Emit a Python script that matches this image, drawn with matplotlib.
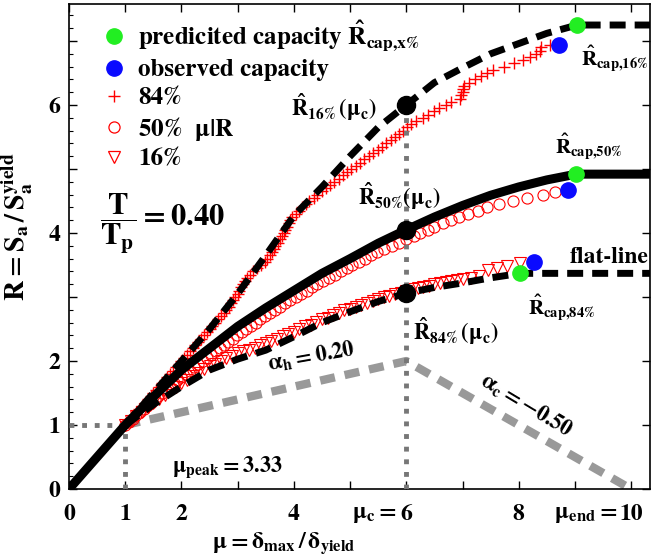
import matplotlib
matplotlib.use("Agg")
import matplotlib.pyplot as plt
from matplotlib.lines import Line2D

plt.rcParams['font.family'] = ['STIXGeneral', 'DejaVu Serif']
plt.rcParams['font.weight'] = 'bold'
plt.rcParams['mathtext.fontset'] = 'stix'
plt.rcParams['mathtext.default'] = 'bf'

# ---------------- data ----------------
# fitted 16% / 50% / 84% curves (mu, R)
fit16_mu = [1, 1.5, 2, 2.5, 3, 3.5, 4, 4.5, 5, 5.5, 6, 6.5, 7, 7.5, 8, 8.5, 9.04, 10.5]
fit16_R = [1, 1.5, 2.0, 2.5, 3.05, 3.65, 4.27, 4.72, 5.2, 5.65, 6.0, 6.35, 6.58, 6.8, 6.96, 7.12, 7.25, 7.25]

fit50_mu = [0, 1, 1.5, 2, 2.5, 3, 3.5, 4, 4.5, 5, 5.5, 6, 6.5, 7, 7.5, 8, 8.5, 9.02, 10.5]
fit50_R = [0, 1, 1.44, 1.86, 2.2, 2.54, 2.83, 3.1, 3.37, 3.6, 3.84, 4.05, 4.25, 4.43, 4.59, 4.72, 4.83, 4.92, 4.92]

fit84_mu = [1, 1.5, 2, 2.5, 3, 3.5, 4, 4.5, 5, 5.5, 6, 6.5, 7, 7.5, 8.03, 10.5]
fit84_R = [1, 1.32, 1.6, 1.86, 2.03, 2.17, 2.38, 2.6, 2.77, 2.93, 3.06, 3.15, 3.22, 3.3, 3.37, 3.37]

# IDA fractiles mu|R : 84% (+)
p84_R = [1.00, 1.05, 1.10, 1.15, 1.20, 1.25, 1.30, 1.35, 1.40, 1.45, 1.50, 1.55, 1.60, 1.65, 1.70,
         1.75, 1.80, 1.85, 1.90, 1.95, 2.00, 2.05, 2.10, 2.15, 2.20, 2.25, 2.30, 2.35, 2.40, 2.45,
         2.50, 2.55, 2.60, 2.65, 2.70, 2.75, 2.80, 2.85, 2.90, 2.95, 3.00, 3.05, 3.10, 3.15, 3.20,
         3.25, 3.30, 3.35, 3.40, 3.45, 3.50, 3.55, 3.60, 3.65, 3.70, 3.75, 3.80, 3.85, 3.90, 3.95,
         4.00, 4.05, 4.10, 4.15, 4.20, 4.25, 4.30, 4.35, 4.40, 4.45, 4.50, 4.55, 4.60, 4.65, 4.70,
         4.75, 4.80, 4.85, 4.90, 4.95, 5.00, 5.05, 5.10, 5.15, 5.20, 5.25, 5.30, 5.35, 5.40, 5.45,
         5.50, 5.55, 5.60, 5.65, 5.70, 5.75, 5.80, 5.85, 5.90, 5.95, 6.00, 6.05, 6.10, 6.15, 6.20,
         6.25, 6.30, 6.35, 6.40, 6.45, 6.50, 6.55, 6.60, 6.65, 6.70, 6.75, 6.80, 6.85, 6.90, 6.94]
p84_mu = [1.00, 1.05, 1.10, 1.15, 1.20, 1.25, 1.30, 1.35, 1.40, 1.45, 1.50, 1.55, 1.60, 1.65, 1.70,
          1.75, 1.80, 1.85, 1.90, 1.95, 2.00, 2.05, 2.10, 2.15, 2.20, 2.25, 2.30, 2.35, 2.40, 2.45,
          2.50, 2.55, 2.60, 2.65, 2.70, 2.75, 2.80, 2.84, 2.88, 2.92, 2.96, 3.00, 3.03, 3.06, 3.09,
          3.13, 3.17, 3.22, 3.28, 3.35, 3.42, 3.48, 3.53, 3.57, 3.61, 3.64, 3.67, 3.71, 3.75, 3.79,
          3.82, 3.85, 3.88, 3.91, 3.94, 3.97, 4.03, 4.09, 4.15, 4.21, 4.27, 4.35, 4.42, 4.50, 4.57,
          4.65, 4.72, 4.80, 4.87, 4.95, 5.02, 5.10, 5.18, 5.25, 5.33, 5.41, 5.49, 5.57, 5.64, 5.72,
          5.80, 5.87, 5.94, 6.01, 6.08, 6.18, 6.29, 6.39, 6.49, 6.59, 6.70, 6.80, 6.95, 6.98, 7.00,
          7.01, 7.02, 7.12, 7.22, 7.33, 7.43, 7.54, 7.73, 7.92, 8.08, 8.20, 8.31, 8.38, 8.40, 8.56]

# 50% (o)
p50_R = [1.00, 1.05, 1.10, 1.15, 1.20, 1.25, 1.30, 1.35, 1.40, 1.45, 1.50, 1.55, 1.60, 1.65, 1.70,
         1.75, 1.80, 1.85, 1.90, 1.95, 2.00, 2.05, 2.10, 2.15, 2.20, 2.25, 2.30, 2.35, 2.40, 2.45,
         2.50, 2.55, 2.60, 2.65, 2.70, 2.75, 2.80, 2.85, 2.90, 2.95, 3.00, 3.05, 3.10, 3.15, 3.20,
         3.25, 3.30, 3.35, 3.40, 3.45, 3.50, 3.55, 3.60, 3.65, 3.70, 3.75, 3.80, 3.85, 3.90, 3.95,
         4.00, 4.05, 4.10, 4.15, 4.20, 4.25, 4.30, 4.35, 4.40, 4.45, 4.50, 4.55, 4.60, 4.64]
p50_mu = [1.00, 1.07, 1.13, 1.20, 1.26, 1.33, 1.39, 1.46, 1.53, 1.59, 1.66, 1.73, 1.80, 1.86, 1.93,
          2.00, 2.08, 2.15, 2.23, 2.30, 2.38, 2.45, 2.53, 2.61, 2.68, 2.76, 2.83, 2.91, 2.98, 3.07,
          3.15, 3.23, 3.32, 3.40, 3.48, 3.57, 3.67, 3.76, 3.85, 3.94, 4.04, 4.13, 4.23, 4.33, 4.42,
          4.52, 4.63, 4.73, 4.83, 4.94, 5.04, 5.15, 5.26, 5.37, 5.48, 5.61, 5.74, 5.87, 6.00, 6.13,
          6.25, 6.38, 6.50, 6.65, 6.79, 6.94, 7.10, 7.27, 7.43, 7.65, 7.90, 8.15, 8.43, 8.65]

# 16% (triangles)
p16_mu = [1.0, 1.1, 1.2, 1.3, 1.4, 1.5, 1.6, 1.7, 1.8, 1.9, 2.0, 2.1, 2.2, 2.3, 2.4, 2.5, 2.6, 2.7,
          2.8, 2.9, 3.0, 3.1, 3.2, 3.3, 3.4, 3.5, 3.6, 3.7, 3.8, 3.9, 4.0, 4.1, 4.2, 4.3, 4.4, 4.5,
          4.6, 4.7, 4.8, 4.9, 5.0, 5.1, 5.2, 5.3, 5.4, 5.5, 5.6, 5.7, 5.8, 5.9, 6.0, 6.1, 6.2, 6.3,
          6.4, 6.5, 6.6, 6.7, 6.8, 6.9, 7.0, 7.15, 7.3, 7.45, 7.62, 7.8, 8.03]
p16_R = [1.00, 1.07, 1.14, 1.21, 1.28, 1.35, 1.41, 1.47, 1.54, 1.60, 1.66, 1.71, 1.76, 1.82, 1.87,
         1.92, 1.96, 2.00, 2.04, 2.08, 2.12, 2.15, 2.18, 2.21, 2.25, 2.28, 2.32, 2.35, 2.39, 2.42,
         2.46, 2.50, 2.54, 2.57, 2.61, 2.65, 2.68, 2.72, 2.75, 2.79, 2.82, 2.85, 2.88, 2.91, 2.94,
         2.97, 3.00, 3.02, 3.05, 3.07, 3.10, 3.12, 3.14, 3.16, 3.18, 3.20, 3.22, 3.23, 3.25, 3.26,
         3.28, 3.30, 3.33, 3.42, 3.45, 3.48, 3.53]

# backbone (gray dashed)
bb_mu = [1, 6, 10]
bb_R = [1, 2, 0]

# key points
muc_pts_mu = [6, 6, 6]
muc_pts_R = [6.0, 4.05, 3.06]
pred_mu = [9.04, 9.02, 8.03]
pred_R = [7.25, 4.92, 3.37]
obs_mu = [8.72, 8.88, 8.27]
obs_R = [6.94, 4.67, 3.55]

xticks = [0, 1, 2, 3, 4, 5, 6, 7, 8, 9, 10]
xticklabels = ['0', '1', '2', '', '4', '', '6', '', '8', '', '10']
yticks = [0, 1, 2, 3, 4, 5, 6, 7]
yticklabels = ['0', '1', '2', '', '4', '', '6', '']

# ---------------- figure ----------------
fig = plt.figure(figsize=(6.51, 5.57), dpi=100)
ax = fig.add_axes([0.106, 0.122, 0.892, 0.871])
ax.set_xlim(0, 10.33)
ax.set_ylim(0, 7.58)

red = '#ff0000'
gray_d = '#999999'
gray_dot = '#777777'

# backbone
ax.plot(bb_mu, bb_R, color=gray_d, lw=6, ls=(0, (1.8, 1.2)), solid_capstyle='butt', zorder=1)

# red fractiles
ax.plot(p84_mu, p84_R, ls='none', marker='+', ms=9, mew=1.0, color=red, zorder=2)
ax.plot(p50_mu, p50_R, ls='none', marker='o', ms=8, mew=0.8, mfc='none', mec=red, zorder=2)
ax.plot(p16_mu, p16_R, ls='none', marker='v', ms=8, mew=0.8, mfc='none', mec=red, zorder=2)

# dotted guides
ax.plot([0, 1], [1, 1], color=gray_dot, lw=3.5, ls=(0, (1, 1.6)), zorder=3)
ax.plot([1, 1], [0, 1], color=gray_dot, lw=3.5, ls=(0, (1, 1.6)), zorder=3)
ax.plot([6, 6], [0, 5.9], color=gray_dot, lw=3.5, ls=(0, (1, 1.6)), zorder=3)

# fitted curves
ax.plot(fit50_mu, fit50_R, color='black', lw=6.5, solid_capstyle='butt', zorder=4)
ax.plot(fit16_mu, fit16_R, color='black', lw=5, ls=(0, (2.3, 1.3)), zorder=4)
ax.plot(fit84_mu, fit84_R, color='black', lw=5, ls=(0, (2.3, 1.3)), zorder=4)

ax.plot(muc_pts_mu, muc_pts_R, ls='none', marker='o', ms=13, color='black', zorder=5)
ax.plot(pred_mu, pred_R, ls='none', marker='o', ms=11, color='#22ee22', zorder=6)
ax.plot(obs_mu, obs_R, ls='none', marker='o', ms=11, color='#0a0aff', zorder=6)

# ticks
ax.set_xticks(xticks)
ax.set_xticklabels(xticklabels)
ax.set_yticks(yticks)
ax.set_yticklabels(yticklabels)
ax.set_yticks([i * 0.2 for i in range(38)], minor=True)
ax.tick_params(which='major', direction='in', length=6, width=1, labelsize=17,
               top=True, right=True)
ax.tick_params(which='minor', direction='in', length=3, width=0.8, left=True, right=False)
ax.tick_params(axis='x', pad=11)
ax.tick_params(axis='y', pad=6)
for s in ax.spines.values():
    s.set_linewidth(1.2)

# tick prefixes
ax.annotate(r'$\mu_c =$', xy=(6, 0), xycoords=('data', 'axes fraction'),
            xytext=(-7, -11), textcoords='offset points', ha='right', va='top', fontsize=17)
ax.annotate(r'$\mu_{end} =$', xy=(10, 0), xycoords=('data', 'axes fraction'),
            xytext=(-10, -11), textcoords='offset points', ha='right', va='top', fontsize=17)

# axis labels
ax.set_xlabel(r'$\mu = \delta_{max}\,/\,\delta_{yield}$', fontsize=17)
ax.xaxis.set_label_coords(0.37, -0.085)
ax.set_ylabel(r'$R = S_a\,/\,S_a^{yield}$', fontsize=20)
ax.yaxis.set_label_coords(-0.058, 0.54)

# annotations
fs = 16
ax.text(3.95, 5.97, r'$\hat{R}_{16\%}\,(\mu_c)$', fontsize=fs, ha='left', va='center', zorder=7)
ax.text(5.14, 4.58, r'$\hat{R}_{50\%}(\mu_c)$', fontsize=fs, ha='left', va='center', zorder=7)
ax.text(6.12, 2.47, r'$\hat{R}_{84\%}\,(\mu_c)$', fontsize=fs, ha='left', va='center', zorder=7)
ax.text(9.1, 6.72, r'$\hat{R}_{cap{,}16\%}$', fontsize=15, ha='left', va='center', zorder=7)
ax.text(8.65, 5.34, r'$\hat{R}_{cap{,}50\%}$', fontsize=15, ha='left', va='center', zorder=7)
ax.text(8.17, 2.83, r'$\hat{R}_{cap{,}84\%}$', fontsize=15, ha='left', va='center', zorder=7)
ax.text(8.91, 3.62, 'flat-line', fontsize=17, ha='left', va='center', zorder=7)
ax.text(0.55, 4.16, r'$\dfrac{T}{T_p} = 0.40$', fontsize=22, ha='left', va='center', zorder=7)
ax.text(1.83, 0.34, r'$\mu_{peak} = 3.33$', fontsize=fs, ha='left', va='center', zorder=7)
ax.text(4.31, 2.06, r'$\alpha_h = 0.20$', fontsize=fs, ha='center', va='center',
        rotation=10, zorder=7)
ax.text(8.13, 1.31, r'$\alpha_c = -0.50$', fontsize=fs, ha='center', va='center',
        rotation=-31, zorder=7)

# legend
handles = [
    Line2D([], [], ls='none', marker='o', ms=11, color='#22ee22'),
    Line2D([], [], ls='none', marker='o', ms=11, color='#0a0aff'),
    Line2D([], [], ls='none', marker='+', ms=9, mew=1.0, color=red),
    Line2D([], [], ls='none', marker='o', ms=8, mew=0.9, mfc='none', mec=red),
    Line2D([], [], ls='none', marker='v', ms=8, mew=0.9, mfc='none', mec=red),
]
labels = [r'predicited capacity $\hat{R}_{cap{,}x\%}$', 'observed capacity', '84%',
          r'50%  $\mu|R$', '16%']
ax.legend(handles, labels, loc='upper left', bbox_to_anchor=(0.035, 0.99), frameon=False,
          fontsize=18, handletextpad=0.35, labelspacing=0.22, handlelength=1.2,
          borderaxespad=0)

fig.savefig('out.png', dpi=100)
